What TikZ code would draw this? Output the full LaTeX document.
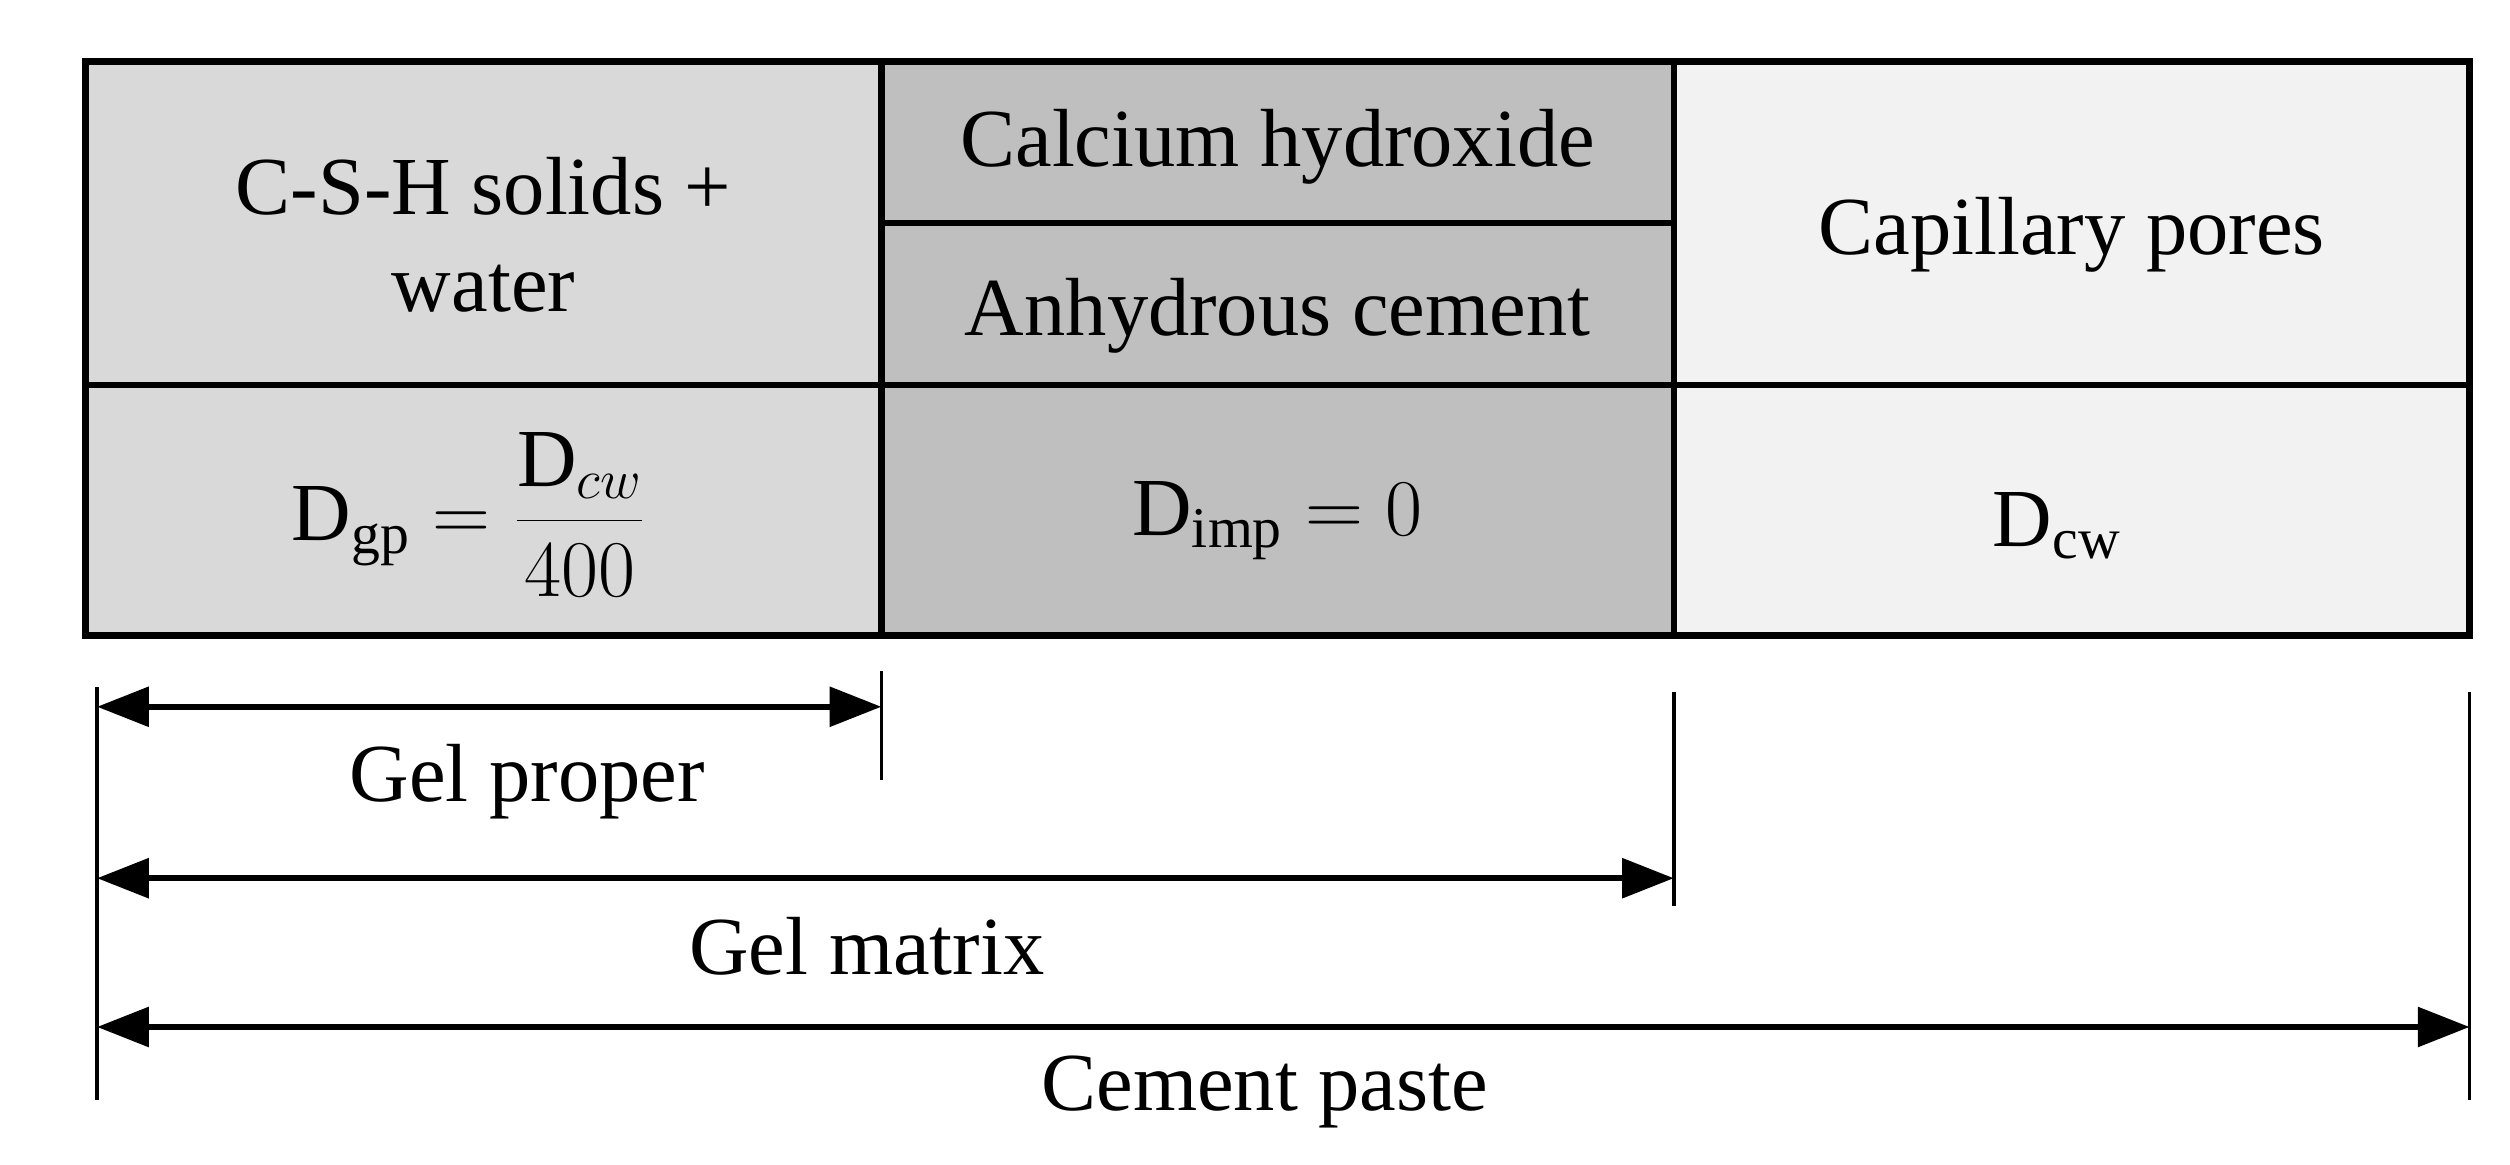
\documentclass[tikz,border=0pt]{standalone}
\usepackage{fontspec}
\setmainfont{Liberation Serif}
\usetikzlibrary{arrows.meta}
\begin{document}
\begin{tikzpicture}[x=0.5pt,y=-0.5pt,
  cell/.style={draw=black,line width=2pt},
  lbl/.style={font=\fontsize{25.5}{30}\selectfont,align=center},
  dim/.style={line width=2pt,{Triangle[length=16pt,width=12pt]}-{Triangle[length=16pt,width=12pt]}},
  tick/.style={line width=1pt}]
\useasboundingbox (0,0) rectangle (1552,720);
\fill[gray!30] (53,38) rectangle (545,393);
\fill[gray!50] (545,38) rectangle (1035,393);
\fill[gray!10] (1035,38) rectangle (1527,393);
\draw[cell] (53,38) rectangle (1527,393);
\draw[cell] (545,38) -- (545,393) (1035,38) -- (1035,393) (53,238) -- (1527,238) (545,138) -- (1035,138);
\node[lbl] (csh) at (299,145) {C-S-H solids +\\water};
\node[lbl] (ch) at (790,91) {Calcium hydroxide};
\node[lbl] (ac) at (790,195) {Anhydrous cement};
\node[lbl] (cp) at (1281,145) {Capillary pores};
\node[lbl] (dgp) at (290,318) {$\mathrm{D}_{\mathrm{gp}}=\displaystyle\frac{\mathrm{D}_{cw}}{400}$};
\node[lbl] (dimp) at (790,322) {$\mathrm{D}_{\mathrm{imp}}=0$};
\node[lbl] (dcw) at (1272,325) {$\mathrm{D}_{\mathrm{cw}}$};
\coordinate (a0) at (60,437); \coordinate (a1) at (545,437);
\coordinate (b0) at (60,543); \coordinate (b1) at (1035,543);
\coordinate (c0) at (60,635); \coordinate (c1) at (1527,635);
\draw[tick] (60,425) -- (60,680) (545,415) -- (545,482) (1035,428) -- (1035,560) (1527,428) -- (1527,680);
\draw[dim] (a0) -- (a1);
\draw[dim] (b0) -- (b1);
\draw[dim] (c0) -- (c1);
\node[lbl] (gp) at (326,483) {Gel proper};
\node[lbl] (gm) at (536,585) {Gel matrix};
\node[lbl] (cpa) at (782,675) {Cement paste};
\end{tikzpicture}
\end{document}
